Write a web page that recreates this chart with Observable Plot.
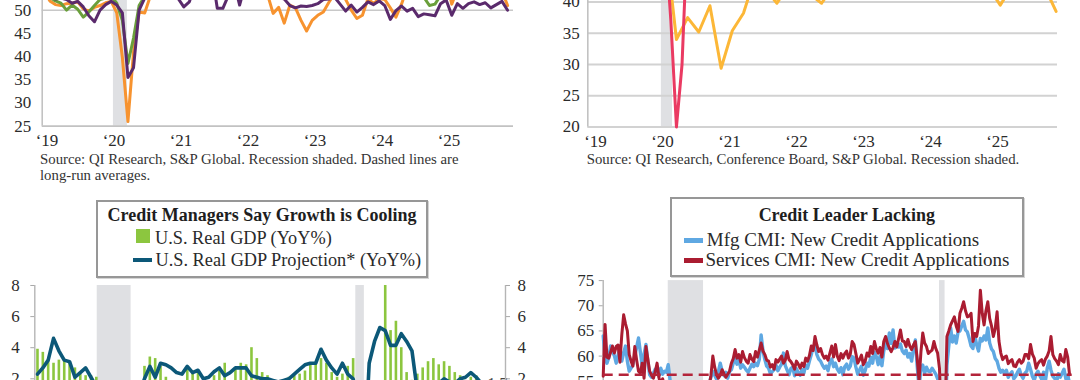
<!DOCTYPE html>
<html><head><meta charset="utf-8">
<script src="https://cdn.jsdelivr.net/npm/d3@7"></script>
<script src="https://cdn.jsdelivr.net/npm/@observablehq/plot@0.6"></script>
<style>
html,body{margin:0;padding:0;background:#fff;}
#page{position:relative;width:1080px;height:380px;overflow:hidden;font-family:"Liberation Serif","Times New Roman",serif;color:#222;background:#fff;}
.panel{position:absolute;}
.panel svg{display:block;}
.cap{position:absolute;font-size:14.8px;line-height:15.5px;color:#333;white-space:nowrap;}
.box{position:absolute;border:2px solid #979797;box-sizing:border-box;background:#fff;box-shadow:1px 1px 0 #d4d4d4;}
.ttl{position:absolute;font-weight:bold;font-size:18px;line-height:20px;white-space:nowrap;color:#1e1e1e;text-align:center;}
.itm{position:absolute;font-size:19px;line-height:20px;white-space:nowrap;color:#2a2a2a;}
.sw{position:absolute;}
</style></head>
<body><div id="page"></div>
<script>
// ================= DATA =================
// Top-left: monthly PMIs, Jan 2019 .. Dec 2025 (month index 0..83)
const tlMonthIndex = d3.range(84);
const tlYearLabels = ["‘19","‘20","‘21","‘22","‘23","‘24","‘25"];
const tlRecession = [{start: 12.4, end: 14.9}];
const tlGreen = [
 53.5,52.8,52.0,51.5,50.0,51.1,50.2,48.5,49.6,51.0,52.3,52.6,
 53.0,51.5,47.8,38.5,44.0,51.0,53.0,54.7,54.6,54.3,56.0,55.3,
 58.7,59.5,59.1,60.5,63.5,63.7,59.9,55.4,55.0,57.6,57.0,57.0,
 53.2,55.9,57.7,56.0,53.6,53.2,52.8,53.4,53.0,53.5,53.3,52.9,
 53.2,53.8,54.2,53.5,54.0,53.1,52.9,53.6,53.4,53.0,53.3,53.7,
 54.0,53.5,53.2,52.8,53.6,54.1,53.9,53.0,52.8,51.0,51.3,53.2,
 54.0,53.5,53.7,53.0,52.9,53.6,54.2,53.8,53.4,53.9,53.2,52.9];
const tlOrange = [
 54.2,52.0,51.2,51.0,51.4,51.5,51.8,50.3,49.8,50.6,51.0,51.6,
 51.9,49.4,39.8,26.0,41.0,49.6,49.4,53.0,54.6,56.9,58.4,54.8,
 58.3,59.8,60.4,64.7,70.4,64.6,59.9,55.1,54.9,58.7,58.0,57.6,
 53.0,56.5,58.0,55.6,53.4,49.3,50.6,47.2,51.1,50.5,47.8,45.5,
 47.8,48.9,49.6,51.7,53.6,54.9,52.3,50.0,48.2,48.9,52.5,51.4,
 52.5,52.3,50.5,48.5,51.3,54.8,55.3,55.0,55.7,55.2,55.0,56.1,
 56.8,51.3,54.4,52.5,52.9,52.9,55.7,54.5,54.2,54.8,54.1,51.0];
const tlPurple = [
 54.9,53.0,52.4,52.6,52.3,51.5,51.9,50.7,48.8,47.5,50.0,51.2,
 51.9,51.1,49.4,35.5,37.6,50.0,52.6,54.2,53.5,55.0,56.7,57.1,
 52.5,50.7,51.8,55.4,57.5,60.5,58.3,50.4,50.4,53.2,56.0,51.1,
 55.5,57.3,58.8,59.2,57.0,53.5,52.8,52.4,51.0,50.5,50.9,50.8,
 51.0,51.4,52.3,52.4,52.8,51.3,49.8,51.1,49.6,50.6,51.8,51.2,
 52.0,51.0,48.0,49.9,50.9,49.8,50.4,48.6,49.2,49.0,48.8,51.4,
 52.2,48.9,51.4,50.4,51.4,51.8,51.2,51.6,50.5,51.2,51.9,50.0];

// Top-right: red monthly (index 0..83), yellow every other month (odd indexes)
const trMonthIndex = d3.range(84);
const trYellowIndex = d3.range(1, 84, 2);
const trRecession = [{start: 12.3, end: 14.3}];
const trRed = [
 55.0,56.2,54.8,57.0,58.3,57.6,56.9,55.8,56.4,57.1,55.9,56.5,
 57.2,50.0,37.0,20.0,30.0,52.0,55.4,57.8,56.1,57.3,55.8,56.9,
 58.4,59.6,60.2,61.5,60.8,59.9,58.6,57.4,56.8,55.9,56.3,55.2,
 54.6,55.8,54.1,53.6,52.9,52.2,51.6,51.0,50.8,50.2,49.7,49.3,
 49.8,50.6,51.2,51.8,52.3,52.0,51.5,50.9,51.2,50.6,50.3,51.0,
 51.6,52.1,51.9,52.4,53.0,52.7,52.2,51.6,51.9,52.5,53.1,52.8,
 52.4,51.9,52.6,51.8,52.2,52.7,53.0,52.4,51.8,52.3,52.6,51.9];
const trYellow = [
 48.0,47.2,46.5,45.8,46.2,45.5,50.0,34.0,37.5,35.2,39.4,29.4,
 35.4,38.2,43.8,42.0,39.8,42.6,41.5,41.2,39.8,42.4,43.1,42.8,
 43.5,42.9,44.0,43.2,42.5,43.6,42.8,43.3,42.0,42.6,43.0,42.2,
 39.5,42.4,43.0,42.7,42.3,38.5];

// Bottom-left: quarterly, 2005Q1 ..
const gdpYears = d3.range(2005, 2026);
const gdpRecessions = [{start: 2007.917, end: 2009.5}, {start: 2020.0, end: 2020.4}];
const gdpActual = [ // 2005Q1 .. 2025Q3
 3.9,3.7,3.2,3.0, 3.2,3.2,3.0,2.7, 2.3,2.2,2.2,2.1, 1.1,0.9,-0.4,-2.5,
 -3.3,-3.9,-3.0,0.2, 2.8,3.4,3.3,2.8, 2.1,1.7,1.3,1.7, 2.6,2.5,2.4,1.6,
 1.7,2.2,2.5,3.0, 1.6,2.7,3.0,2.9, 4.0,3.3,2.4,2.2, 1.9,1.4,1.7,2.1,
 2.2,2.3,2.5,2.9, 3.0,3.3,3.0,2.4, 2.1,2.3,2.8,3.3, 0.6,-7.5,-1.5,-1.1,
 1.6,8.0,5.1,5.7, 4.0,2.4,1.9,2.3, 2.7,3.1,3.3,2.9, 3.1,2.8,2.4,2.2,
 1.9,2.1,2.2];
const gdpProjection = [ // 2005Q1 .. 2025Q4
 2.3,2.7,3.2,4.6, 3.8,3.2,3.1,2.1, 2.4,2.7,2.1,1.5, 0.8,0.4,-0.8,-2.5,
 -3.0,-1.8,-0.2,1.0, 2.0,2.8,2.1,3.0, 2.9,2.7,2.4,2.3, 2.8,2.4,2.55,2.0,
 2.1,2.45,2.7,2.2, 2.4,2.7,2.7,2.7, 2.2,2.1,2.0,2.0, 1.9,1.8,1.9,2.0,
 2.3,2.6,2.9,3.0, 3.0,3.9,3.2,2.7, 2.3,3.0,2.3,2.0, 0.5,-4.0,3.0,4.4,
 5.3,5.1,4.15,4.15, 4.9,4.4,3.8,1.2, 0.8,1.2,1.5,1.7, 2.0,1.8,1.7,2.0,
 2.1,2.4,2.1,1.7];

// Bottom-right: monthly, Jan 2005 .. Dec 2025 (index 0..251)
const cmiRecessions = [{start: 35, end: 54}, {start: 181, end: 184}];
const cmiLongRunAverage = 56.3;
const cmiServices = [
 56.0,66.3,59.8,59.6,60.8,62.0,60.6,61.9,62.2,58.8,64.2,68.2,
 66.4,65.0,60.3,59.0,58.0,61.9,59.2,57.0,56.6,58.6,55.6,61.9,
 59.5,57.0,56.2,55.6,56.9,58.6,55.7,54.3,55.5,53.8,54.6,52.8,
 53.5,51.2,50.8,50.1,49.5,48.7,47.2,48.8,46.4,43.1,42.5,41.8,
 40.5,41.8,42.6,44.0,45.5,47.3,48.8,50.1,52.4,54.0,56.2,60.0,
 57.8,56.3,55.6,56.2,57.3,56.5,55.8,56.4,57.0,58.6,59.5,61.3,
 59.6,60.3,58.8,60.9,59.7,59.0,58.6,60.3,59.4,58.9,60.9,59.8,
 61.2,62.6,61.0,60.3,59.2,59.0,57.8,58.3,57.4,59.3,58.8,59.4,
 60.0,58.6,59.2,60.9,59.3,58.9,58.3,57.4,59.0,58.4,57.6,58.6,
 57.9,59.6,59.0,60.1,62.0,61.1,63.9,62.2,60.9,61.5,60.3,59.6,
 60.0,59.2,60.6,62.0,59.8,62.3,60.0,59.1,60.5,59.6,60.5,61.0,
 59.6,60.4,62.9,62.3,60.5,58.6,59.3,60.2,58.3,59.0,60.6,60.0,
 61.9,60.5,62.9,61.4,60.6,61.7,59.8,62.9,63.9,62.5,61.6,60.9,
 61.7,62.9,61.8,63.5,65.2,63.0,62.9,61.9,63.3,62.0,61.3,62.2,
 62.9,59.5,55.0,60.8,64.6,62.6,61.9,60.5,60.9,61.2,62.9,61.5,
 60.6,57.5,47.0,40.0,48.0,63.9,65.0,66.2,67.0,67.8,66.0,64.9,
 68.5,69.5,70.8,69.0,67.8,68.0,68.5,62.9,64.5,63.9,66.0,73.1,
 68.5,66.2,69.0,70.8,67.5,66.0,63.9,65.5,68.8,63.0,60.6,59.3,
 59.8,60.0,58.5,59.0,59.3,58.0,57.9,58.8,59.3,58.6,59.0,60.3,
 60.3,59.5,62.3,60.4,59.6,57.6,58.5,59.0,59.3,58.2,59.4,60.0,
 61.0,63.9,60.3,59.5,59.0,58.3,60.3,59.1,58.8,61.3,59.8,56.3];
const cmiManufacturing = [
 64.0,59.8,58.6,59.7,62.0,60.8,60.1,58.6,60.2,61.6,59.0,60.6,
 62.0,59.0,57.0,57.6,58.4,60.0,61.8,63.6,60.8,58.0,60.4,62.3,
 59.0,56.3,55.8,56.6,57.4,57.2,56.0,57.6,56.4,57.0,56.8,58.3,
 55.2,54.0,53.1,52.6,51.8,51.0,50.2,50.6,48.8,45.1,43.0,41.2,
 40.0,41.5,42.8,44.6,46.0,47.8,49.9,51.3,53.0,54.6,55.8,56.9,
 56.2,55.4,56.9,58.6,57.0,56.1,56.8,55.6,56.9,57.3,58.6,59.6,
 58.4,59.6,57.6,58.3,57.8,57.2,56.8,57.6,58.4,57.9,58.6,58.1,
 59.3,64.2,61.0,59.3,58.0,57.6,56.5,56.9,57.3,58.2,57.1,57.8,
 58.4,60.6,58.1,57.2,56.3,57.5,57.8,56.1,57.5,56.8,56.2,57.3,
 56.6,58.2,57.6,59.0,60.3,61.9,62.0,60.3,59.4,59.0,58.2,57.6,
 58.0,57.1,58.8,59.4,57.9,58.6,57.4,56.8,57.7,56.3,57.9,58.4,
 57.4,58.0,59.9,59.6,57.8,56.4,57.3,58.0,56.2,57.1,58.6,58.0,
 59.8,58.6,60.8,59.9,58.3,60.0,58.1,61.0,62.8,61.5,64.6,62.5,
 65.2,61.6,62.0,61.8,62.4,61.0,60.5,61.2,59.8,60.5,59.0,61.5,
 63.2,58.0,53.5,57.6,58.2,56.6,57.8,57.0,56.9,57.6,57.0,56.4,
 55.5,54.0,45.0,38.0,44.0,58.2,62.0,65.6,62.8,64.0,62.6,64.8,
 65.0,66.0,66.9,65.2,64.8,63.5,62.0,61.5,64.2,62.2,61.0,63.5,
 63.0,64.0,63.2,65.6,62.6,61.4,60.9,59.5,59.0,57.6,56.8,57.2,
 56.5,57.2,55.8,56.4,56.9,55.5,56.0,56.8,57.4,56.2,55.6,56.6,
 57.0,58.6,57.4,56.0,55.2,56.4,57.0,56.1,55.4,56.8,55.0,57.6,
 59.0,57.2,56.0,55.6,54.8,56.5,55.8,56.6,57.4,55.5,56.2,54.6];

// ================= LAYOUT =================
const FONT = '"Liberation Serif","Times New Roman",serif';
const page = document.getElementById("page");
const baseStyle = {fontFamily: FONT, fontSize: "17px", color: "#2b2b2b", background: "transparent"};
function place(svg, left, top) {
  const d = document.createElement("div");
  d.className = "panel"; d.style.left = left + "px"; d.style.top = top + "px";
  d.appendChild(svg); page.appendChild(d);
}
function html(cls, text, css) {
  const d = document.createElement("div");
  d.className = cls; d.innerHTML = text; Object.assign(d.style, css); page.appendChild(d); return d;
}
function yLayout(vA, pA, vB, pB, dom, mt, mb) {
  const k = (pB - pA) / (vA - vB);
  const pTop = pA - (dom[1] - vA) * k, pBot = pB + (vB - dom[0]) * k;
  return {top: pTop - mt, height: mt + (pBot - pTop) + mb};
}
const GRAY_AXIS = "#c2c2c2", SHADE = "#dfe0e3";

// ---------- Chart A (top-left) ----------
{
  const L = 41.7, R = 513, x0 = 43.7, pm = 5.583;
  const yDom = [25, 62], mt = 6, mb = 40;
  const ly = yLayout(50, 10, 25, 126, yDom, mt, mb);
  const xDom = [(L - x0) / pm, (R - x0) / pm];
  const ticks = tlYearLabels.map((_, i) => 12 * i + 0.5);
  const lab = new Map(ticks.map((t, i) => [t, tlYearLabels[i]]));
  const series = (arr) => arr.map((v, i) => ({m: tlMonthIndex[i], v}));
  const svg = Plot.plot({
    width: 540, height: ly.height, marginLeft: L, marginRight: 540 - R, marginTop: mt, marginBottom: mb,
    x: {domain: xDom}, y: {domain: yDom}, style: baseStyle,
    marks: [
      Plot.rect(tlRecession, {x1: "start", x2: "end", y1: yDom[0], y2: yDom[1], fill: SHADE}),
      Plot.ruleY([50], {stroke: "#c8c8c8", strokeWidth: 1.6}),
      Plot.ruleY([yDom[0]], {stroke: GRAY_AXIS, strokeWidth: 1.6}),
      Plot.ruleX([xDom[0]], {stroke: GRAY_AXIS, strokeWidth: 1.6}),
      Plot.line(series(tlOrange), {x: "m", y: "v", stroke: "#f7932f", strokeWidth: 3, strokeLinejoin: "round"}),
      Plot.line(series(tlGreen), {x: "m", y: "v", stroke: "#6a9f3b", strokeWidth: 3, strokeLinejoin: "round"}),
      Plot.line(series(tlPurple), {x: "m", y: "v", stroke: "#5a2a6c", strokeWidth: 3, strokeLinejoin: "round"}),
      Plot.axisY({ticks: d3.range(25, 51, 5), tickSize: 0, tickPadding: 11, label: null}),
      Plot.axisX({ticks, tickFormat: d => lab.get(d), tickSize: 0, tickPadding: 8, label: null})
    ]
  });
  place(svg, 0, ly.top);
  html("cap", "Source: QI Research, S&amp;P Global. Recession shaded. Dashed lines are<br>long-run averages.", {left: "40px", top: "152px"});
}

// ---------- Chart B (top-right) ----------
{
  const OFF = 540, L = 587.3, R = 1057, x0 = 592.2, pm = 5.583;
  const yDom = [20, 46], mt = 6, mb = 40;
  const ly = yLayout(40, 1, 20, 126, yDom, mt, mb);
  const xDom = [(L - x0) / pm, (R - x0) / pm];
  const ticks = tlYearLabels.map((_, i) => 12 * i + 0.5);
  const lab = new Map(ticks.map((t, i) => [t, tlYearLabels[i]]));
  const svg = Plot.plot({
    width: 540, height: ly.height, marginLeft: L - OFF, marginRight: OFF + 540 - R, marginTop: mt, marginBottom: mb,
    x: {domain: xDom}, y: {domain: yDom}, style: baseStyle,
    marks: [
      Plot.rect(trRecession, {x1: "start", x2: "end", y1: yDom[0], y2: yDom[1], fill: SHADE}),
      Plot.ruleY(d3.range(20, 46, 5), {stroke: "#d2d2d2", strokeWidth: 2}),
      Plot.ruleX([xDom[0]], {stroke: GRAY_AXIS, strokeWidth: 1.6}),
      Plot.line(trYellow.map((v, i) => ({m: trYellowIndex[i], v})), {x: "m", y: "v", stroke: "#fcb737", strokeWidth: 3, strokeLinejoin: "round"}),
      Plot.line(trRed.map((v, i) => ({m: trMonthIndex[i], v})), {x: "m", y: "v", stroke: "#ea3a62", strokeWidth: 3, strokeLinejoin: "round"}),
      Plot.axisY({ticks: d3.range(20, 41, 5), tickSize: 0, tickPadding: 8, label: null}),
      Plot.axisX({ticks, tickFormat: d => lab.get(d), tickSize: 0, tickPadding: 8, label: null})
    ]
  });
  place(svg, OFF, ly.top);
  html("cap", "Source: QI Research, Conference Board, S&amp;P Global. Recession shaded.", {left: "586.7px", top: "152px"});
}

// ---------- Chart C (bottom-left) ----------
{
  const L = 34.3, R = 505, t0 = 2005, ppy = 21.4;
  const xDom = [t0, t0 + (R - L) / ppy];
  const yDom = [-8, 8], mt = 6, mb = 6;
  const ly = yLayout(8, 285, 2, 378.3, yDom, mt, mb);
  const qt = [];
  gdpYears.forEach(y => [1, 2, 3, 4].forEach(q => qt.push(y + (q - 0.5) / 4)));
  const bars = gdpActual.map((v, i) => ({t: qt[i], v}));
  const proj = gdpProjection.map((v, i) => ({t: qt[i], v}));
  const last = proj[proj.length - 1];
  const yt = [2, 4, 6, 8];
  const svg = Plot.plot({
    width: 540, height: ly.height, marginLeft: L, marginRight: 540 - R, marginTop: mt, marginBottom: mb,
    x: {domain: xDom, axis: null}, y: {domain: yDom}, style: baseStyle,
    marks: [
      Plot.rect(gdpRecessions, {x1: "start", x2: "end", y1: yDom[0], y2: yDom[1], fill: SHADE}),
      Plot.ruleX(bars, {x: "t", y1: 0, y2: "v", stroke: "#8cc63f", strokeWidth: 2.6}),
      Plot.line(proj, {x: "t", y: "v", stroke: "#0c5878", strokeWidth: 3.6, strokeLinejoin: "round"}),
      Plot.text([last], {x: "t", y: "v", text: d => d.v.toFixed(1), dx: 6, textAnchor: "start", fill: "#444", fontSize: 16}),
      Plot.ruleX([xDom[0], xDom[1]], {stroke: "#b5b5b5", strokeWidth: 1.4}),
      Plot.axisY({ticks: yt, tickSize: 4, tickPadding: 11, stroke: "#a8a8a8", label: null}),
      Plot.axisY({anchor: "right", ticks: yt, tickSize: 4, tickPadding: 8, stroke: "#a8a8a8", label: null})
    ]
  });
  place(svg, 0, ly.top);
  html("box", "", {left: "96px", top: "200px", width: "332px", height: "78.3px"});
  html("ttl", "Credit Managers Say Growth is Cooling", {left: "96px", width: "332px", top: "205px"});
  html("sw", "", {left: "136px", top: "229.3px", width: "13.6px", height: "14px", background: "#8cc63f"});
  html("itm", "U.S. Real GDP (YoY%)", {left: "155px", top: "228.3px", fontSize: "18.3px"});
  html("sw", "", {left: "133px", top: "258px", width: "19px", height: "4px", background: "#0c5878"});
  html("itm", "U.S. Real GDP Projection* (YoY%)", {left: "155.5px", top: "250px", fontSize: "18.3px"});
}

// ---------- Chart D (bottom-right) ----------
{
  const OFF = 540, L = 602.7, R = 1071.7, pm = 1.858;
  const xDom = [0, (R - L) / pm];
  const yDom = [38, 78], mt = 4, mb = 4;
  const ly = yLayout(75, 280.5, 60, 356, yDom, mt, mb);
  const svc = cmiServices.map((v, i) => ({i, v}));
  const mfg = cmiManufacturing.map((v, i) => ({i, v}));
  const svg = Plot.plot({
    width: 540, height: ly.height, marginLeft: L - OFF, marginRight: OFF + 540 - R, marginTop: mt, marginBottom: mb,
    x: {domain: xDom, axis: null}, y: {domain: yDom}, style: baseStyle,
    marks: [
      Plot.rect(cmiRecessions, {x1: "start", x2: "end", y1: yDom[0], y2: 75, fill: SHADE}),
      Plot.ruleX([xDom[0]], {y1: yDom[0], y2: 75, stroke: "#b5b5b5", strokeWidth: 1.4}),
      Plot.line(mfg, {x: "i", y: "v", stroke: "#5fa8e2", strokeWidth: 3.4, strokeLinejoin: "round"}),
      Plot.line(svc, {x: "i", y: "v", stroke: "#aa1c31", strokeWidth: 3, strokeLinejoin: "round"}),
      Plot.ruleY([cmiLongRunAverage], {stroke: "#b3243a", strokeWidth: 2.4, strokeDasharray: "10,6"}),
      Plot.axisY({ticks: d3.range(55, 76, 5), tickSize: 4, tickPadding: 5, stroke: "#a8a8a8", label: null})
    ]
  });
  place(svg, OFF, ly.top);
  html("box", "", {left: "669.8px", top: "197.3px", width: "354px", height: "79.4px"});
  html("ttl", "Credit Leader Lacking", {left: "669.8px", width: "354px", top: "205px"});
  html("sw", "", {left: "683.6px", top: "238px", width: "19px", height: "4.5px", background: "#5fa8e2"});
  html("itm", "Mfg CMI: New Credit Applications", {left: "706.8px", top: "230px"});
  html("sw", "", {left: "683.6px", top: "258px", width: "19px", height: "4.5px", background: "#aa1c31"});
  html("itm", "Services CMI: New Credit Applications", {left: "705.4px", top: "250px"});
}
</script>
</body></html>
